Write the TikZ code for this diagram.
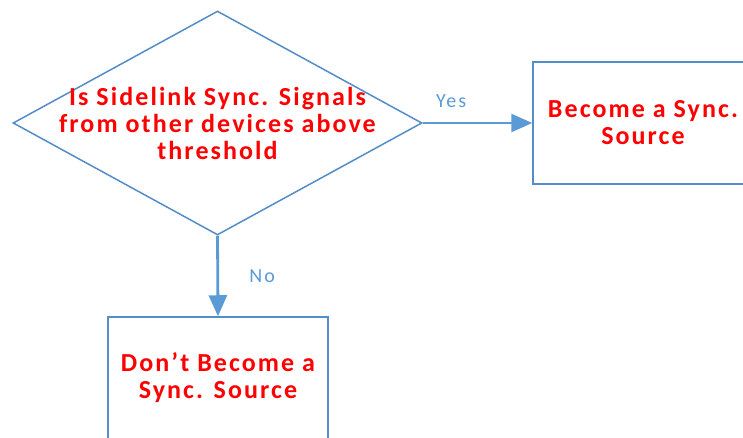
\documentclass[tikz,border=0pt]{standalone}
\usepackage{fontspec}
\setmainfont{Carlito}
\newfontfamily\boxfont[LetterSpace=8]{Carlito}
\newfontfamily\choicefont[LetterSpace=10]{Carlito}
\usetikzlibrary{shapes.geometric,arrows.meta}
\definecolor{edgeblue}{RGB}{84,141,200}
\definecolor{arrowblue}{RGB}{91,155,213}
\definecolor{labelblue}{RGB}{91,155,213}
\tikzset{
  shapeline/.style={draw=edgeblue, line width=1.5pt},
  boxtext/.style={text=red, font=\boxfont\fontsize{26}{27}\selectfont\bfseries, align=center},
  flow/.style={draw=arrowblue, line width=2.8pt, -{Triangle[length=21pt,width=18pt]}},
  choice/.style={text=labelblue, font=\choicefont\fontsize{20}{22}\selectfont}
}
\begin{document}
\begin{tikzpicture}[x=1pt,y=-1pt]
  \useasboundingbox (0,0) rectangle (743,438);
  \clip (0,0) rectangle (743,438);
  \fill[white] (0,0) rectangle (743,438);
  % decision
  \node[diamond, shapeline, minimum width=409pt, minimum height=224pt,
        aspect=1.83, inner sep=0pt] (q) at (217.5,123) {};
  \node[boxtext] (qt) at (217.5,123) {Is Sidelink Sync. Signals\\from other devices above\\threshold};
  % outcomes
  \node[rectangle, shapeline, minimum width=220pt, minimum height=122pt,
        boxtext] (yes) at (643,123) {Become a Sync.\\Source};
  \node[rectangle, shapeline, minimum width=220pt, minimum height=122pt,
        boxtext] (no) at (218,378) {Don’t Become a\\Sync. Source};
  % connectors
  \draw[flow] (q.east) -- node[choice, above=11pt, pos=0.26] {Yes} (yes.west);
  \draw[flow] (q.south) -- node[choice, right=27pt, pos=0.5] {No} (no.north);
\end{tikzpicture}
\end{document}
